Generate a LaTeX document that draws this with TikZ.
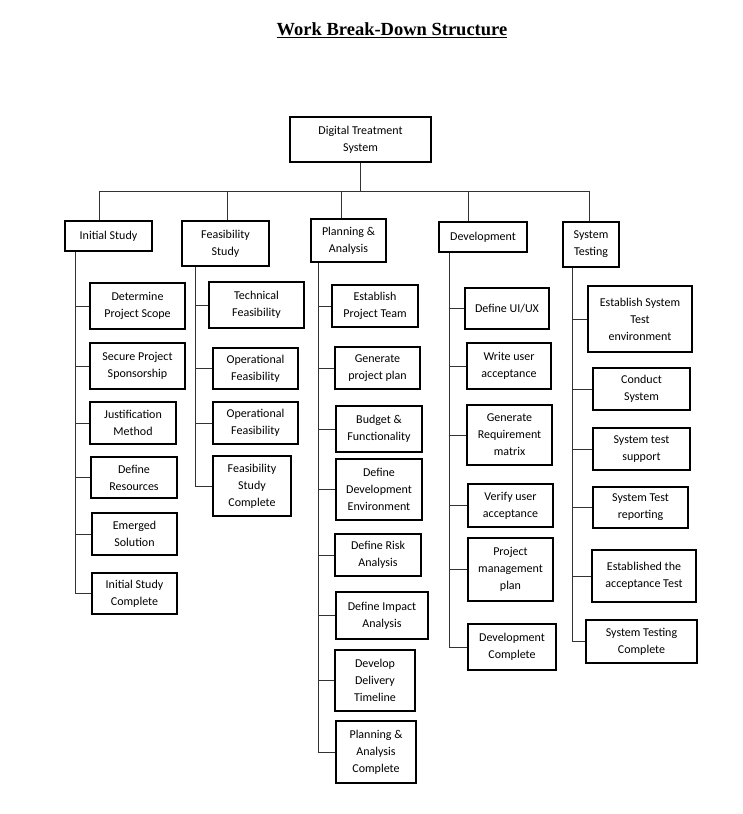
\documentclass[tikz,border=0pt]{standalone}
\usepackage{fontspec}
\setmainfont{Carlito}
\newfontfamily\titlefont{Liberation Serif}
\begin{document}
\begin{tikzpicture}[x=1pt,y=-1pt,
  box/.style={draw=black, line width=1.1pt, align=center, inner sep=0pt,
    font=\fontsize{12}{17}\selectfont},
  link/.style={draw=black!80, line width=0.9pt}]
\useasboundingbox (0,0) rectangle (742,814);

% title
\node (title) at (392,30) {\titlefont\fontsize{18.5}{22}\selectfont\bfseries\underline{Work Break-Down Structure}};

% root and first level
\node[box, minimum width=141pt, minimum height=45pt] (root) at (360.5,139.5) {Digital Treatment\\System};
\node[box, minimum width=87pt, minimum height=30pt] (is0) at (108.5,236) {Initial Study};
\node[box, minimum width=87pt, minimum height=45pt] (fs0) at (225.5,243.5) {Feasibility\\Study};
\node[box, minimum width=75pt, minimum height=43pt] (pa0) at (348.5,240.5) {Planning \&\\Analysis};
\node[box, minimum width=88pt, minimum height=30pt] (dv0) at (483,237) {Development};
\node[box, minimum width=56pt, minimum height=45pt] (st0) at (591,244.5) {System\\Testing};

% Initial Study
\node[box, minimum width=95pt, minimum height=46pt] (is1) at (137.5,306) {Determine\\Project Scope};
\node[box, minimum width=95pt, minimum height=46pt] (is2) at (137.5,366) {Secure Project\\Sponsorship};
\node[box, minimum width=86pt, minimum height=42pt] (is3) at (133,423) {Justification\\Method};
\node[box, minimum width=86pt, minimum height=41pt] (is4) at (134,477.5) {Define\\Resources};
\node[box, minimum width=85pt, minimum height=42pt] (is5) at (134.5,534) {Emerged\\Solution};
\node[box, minimum width=85pt, minimum height=41pt] (is6) at (134.5,593.5) {Initial Study\\Complete};

% Feasibility Study
\node[box, minimum width=95pt, minimum height=46pt] (fs1) at (256.5,305) {Technical\\Feasibility};
\node[box, minimum width=85pt, minimum height=41pt] (fs2) at (255.5,368.5) {Operational\\Feasibility};
\node[box, minimum width=85pt, minimum height=42pt] (fs3) at (255.5,423) {Operational\\Feasibility};
\node[box, minimum width=78pt, minimum height=60pt] (fs4) at (252,486) {Feasibility\\Study\\Complete};

% Planning & Analysis
\node[box, minimum width=86pt, minimum height=42pt] (pa1) at (375,306) {Establish\\Project Team};
\node[box, minimum width=85pt, minimum height=42pt] (pa2) at (377.5,368) {Generate\\project plan};
\node[box, minimum width=86pt, minimum height=46pt] (pa3) at (379,429) {Budget \&\\Functionality};
\node[box, minimum width=86pt, minimum height=61pt] (pa4) at (379,489.5) {Define\\Development\\Environment};
\node[box, minimum width=86pt, minimum height=42pt] (pa5) at (378,555) {Define Risk\\Analysis};
\node[box, minimum width=92pt, minimum height=47pt] (pa6) at (382,615.5) {Define Impact\\Analysis};
\node[box, minimum width=80pt, minimum height=61pt] (pa7) at (375,680.5) {Develop\\Delivery\\Timeline};
\node[box, minimum width=80pt, minimum height=62pt] (pa8) at (376,752) {Planning \&\\Analysis\\Complete};

% Development
\node[box, minimum width=84pt, minimum height=41pt] (dv1) at (507,308.5) {Define UI/UX};
\node[box, minimum width=84pt, minimum height=46pt] (dv2) at (509,366) {Write user\\acceptance};
\node[box, minimum width=85pt, minimum height=60pt] (dv3) at (509.5,435) {Generate\\Requirement\\matrix};
\node[box, minimum width=85pt, minimum height=43pt] (dv4) at (510.5,505.5) {Verify user\\acceptance};
\node[box, minimum width=85pt, minimum height=63pt] (dv5) at (510.5,569.5) {Project\\management\\plan};
\node[box, minimum width=88pt, minimum height=46pt] (dv6) at (512,647) {Development\\Complete};

% System Testing
\node[box, minimum width=104pt, minimum height=66pt] (st1) at (640,319) {Establish System\\Test\\environment};
\node[box, minimum width=97pt, minimum height=42pt] (st2) at (641.5,389) {Conduct\\System};
\node[box, minimum width=97pt, minimum height=42pt] (st3) at (641.5,449) {System test\\support};
\node[box, minimum width=95pt, minimum height=41pt] (st4) at (640.5,507.5) {System Test\\reporting};
\node[box, minimum width=104pt, minimum height=52pt] (st5) at (644,576) {Established the\\acceptance Test};
\node[box, minimum width=111pt, minimum height=43pt] (st6) at (641.5,641.5) {System Testing\\Complete};

% bus from the root to the first level
\coordinate (busL) at (99,191);
\coordinate (busR) at (590,191);
\draw[link] (busL) -- (busR);
\draw[link] (root.south) -- (root.south |- busL);
\coordinate (d1) at (99,191);
\coordinate (d2) at (227,191);
\coordinate (d3) at (341,191);
\coordinate (d4) at (468,191);
\coordinate (d5) at (589,191);
\draw[link] (d1) -- (d1 |- is0.north);
\draw[link] (d2) -- (d2 |- fs0.north);
\draw[link] (d3) -- (d3 |- pa0.north);
\draw[link] (d4) -- (d4 |- dv0.north);
\draw[link] (d5) -- (d5 |- st0.north);

% spines with branches to the work packages
\coordinate (s1) at (75,0);
\coordinate (s2) at (195,0);
\coordinate (s3) at (318,0);
\coordinate (s4) at (449,0);
\coordinate (s5) at (572,0);
\draw[link] (s1 |- is0.south) -- (s1 |- is6.west);
\foreach \n in {is1,is2,is3,is4,is5,is6} \draw[link] (s1 |- \n.west) -- (\n.west);
\draw[link] (s2 |- fs0.south) -- (s2 |- fs4.west);
\foreach \n in {fs1,fs2,fs3,fs4} \draw[link] (s2 |- \n.west) -- (\n.west);
\draw[link] (s3 |- pa0.south) -- (s3 |- pa8.west);
\foreach \n in {pa1,pa2,pa3,pa4,pa5,pa6,pa7,pa8} \draw[link] (s3 |- \n.west) -- (\n.west);
\draw[link] (s4 |- dv0.south) -- (s4 |- dv6.west);
\foreach \n in {dv1,dv2,dv3,dv4,dv5,dv6} \draw[link] (s4 |- \n.west) -- (\n.west);
\draw[link] (s5 |- st0.south) -- (s5 |- st6.west);
\foreach \n in {st1,st2,st3,st4,st5,st6} \draw[link] (s5 |- \n.west) -- (\n.west);
\end{tikzpicture}
\end{document}
